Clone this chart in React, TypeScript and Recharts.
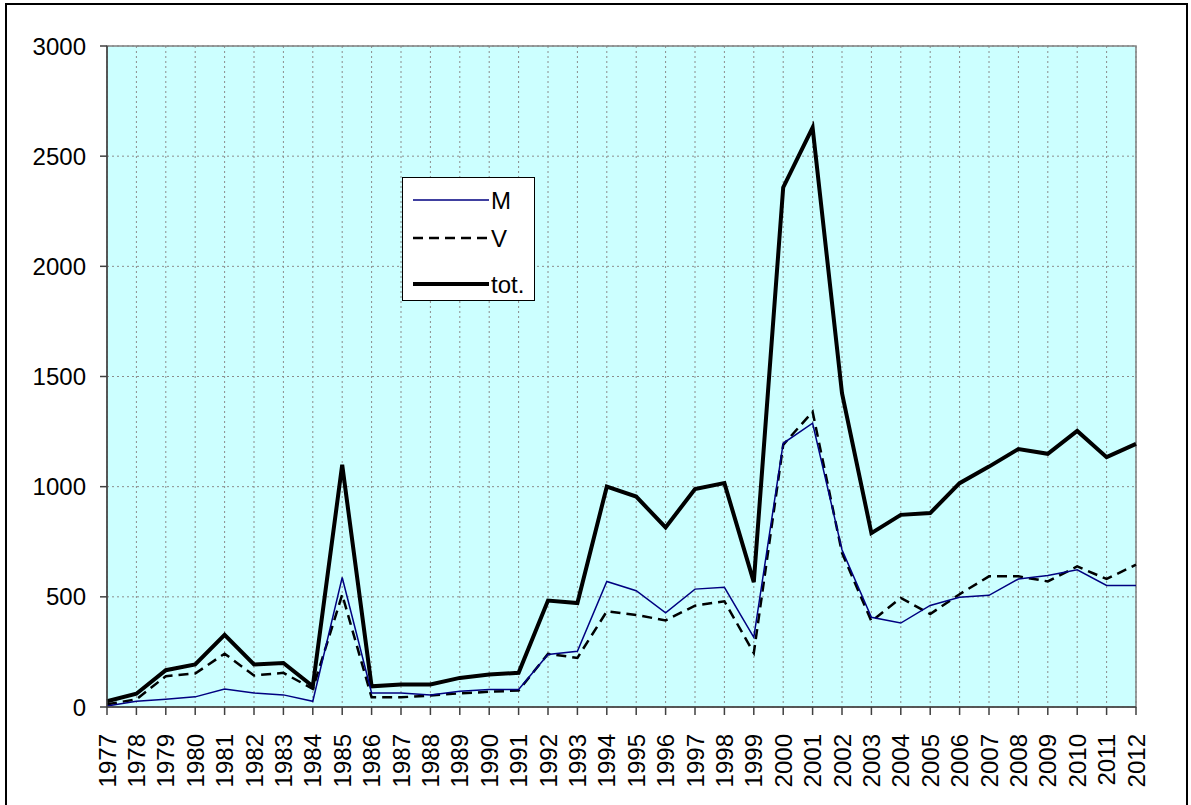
import React from 'react';
import { LineChart, Line, XAxis, YAxis, CartesianGrid, ReferenceArea } from 'recharts';

const years = [
  '1977','1978','1979','1980','1981','1982','1983','1984','1985','1986','1987','1988',
  '1989','1990','1991','1992','1993','1994','1995','1996','1997','1998','1999','2000',
  '2001','2002','2003','2004','2005','2006','2007','2008','2009','2010','2011','2012',
];
const mValues = [
  5, 26, 35, 46, 82, 64, 55, 26, 588, 64, 64, 55,
  72, 79, 79, 238, 253, 570, 528, 427, 535, 543, 316, 1197,
  1288, 714, 407, 381, 461, 498, 507, 581, 597, 623, 552, 552,
];
const vValues = [
  12, 35, 140, 152, 242, 143, 155, 82, 510, 44, 44, 52,
  62, 69, 75, 241, 223, 434, 418, 393, 460, 480, 245, 1190,
  1340, 700, 389, 495, 422, 512, 593, 593, 570, 638, 581, 646,
];
const totValues = [
  26, 60, 167, 193, 328, 193, 200, 94, 1099, 94, 102, 102,
  132, 147, 155, 483, 472, 1000, 955, 815, 989, 1016, 567, 2358,
  2630, 1424, 789, 872, 880, 1016, 1091, 1171, 1149, 1253, 1134, 1194,
];
const yTicks = [0, 500, 1000, 1500, 2000, 2500, 3000];

const data = years.map((y, i) => ({ year: y, M: mValues[i], V: vValues[i], tot: totValues[i] }));

const FONT = '"Liberation Sans", Arial, sans-serif';

const XTick = (props: any) => {
  const { x, y, payload } = props;
  const ty = y + 19;
  return (
    <text
      x={x}
      y={ty}
      transform={`rotate(-90, ${x}, ${ty})`}
      textAnchor="end"
      dominantBaseline="central"
      fontSize={24}
      fontFamily={FONT}
      fill="#000"
    >
      {payload.value}
    </text>
  );
};

const LegendBox = () => {
  const items = [
    { label: 'M', stroke: '#000080', width: 1.5, dash: undefined as string | undefined },
    { label: 'V', stroke: '#000', width: 2.5, dash: '10 6' },
    { label: 'tot.', stroke: '#000', width: 4, dash: undefined },
  ];
  return (
    <div
      style={{
        position: 'absolute',
        left: 402,
        top: 177,
        width: 133,
        height: 124,
        background: '#fff',
        border: '1.5px solid #000',
        boxSizing: 'border-box',
      }}
    >
      <svg width={133} height={124}>
        {items.map((it, i) => {
          const cy = [25, 63, 109][i];
          return (
            <g key={it.label}>
              <line x1={10} x2={86} y1={cy - 3} y2={cy - 3} stroke={it.stroke} strokeWidth={it.width} strokeDasharray={it.dash} />
              <text x={88} y={cy - 3} dominantBaseline="central" fontSize={24} fontFamily={FONT} fill="#000">
                {it.label}
              </text>
            </g>
          );
        })}
      </svg>
    </div>
  );
};

export default function App() {
  return (
    <div style={{ position: 'absolute', left: 0, top: 0, width: 1191, height: 805, background: '#fff', overflow: 'hidden' }}>
      <div
        style={{
          position: 'absolute',
          left: 5,
          top: 3,
          width: 1183,
          height: 820,
          border: '2px solid #000',
          boxSizing: 'border-box',
        }}
      />
      <LineChart
        width={1191}
        height={805}
        data={data}
        margin={{ top: 46, right: 55, left: 0, bottom: 0 }}
        style={{ position: 'absolute', left: 0, top: 0 }}
      >
        <CartesianGrid stroke="#8c8c8c" strokeDasharray="2 3" fill="#CCFFFF" fillOpacity={1} />
        <ReferenceArea y1={0} y2={3000} fill="none" fillOpacity={0} stroke="#808080" strokeWidth={1.5} ifOverflow="visible" />
        <XAxis
          dataKey="year"
          interval={0}
          height={98}
          tickSize={8}
          tickMargin={0}
          tick={<XTick />}
          axisLine={{ stroke: '#404040', strokeWidth: 1.5 }}
          tickLine={{ stroke: '#404040', strokeWidth: 1.5 }}
        />
        <YAxis
          domain={[0, 3000]}
          ticks={yTicks}
          width={107}
          tickSize={7}
          tickMargin={14}
          interval={0}
          tick={{ fontSize: 24, fontFamily: FONT, fill: '#000' }}
          axisLine={{ stroke: '#404040', strokeWidth: 1.5 }}
          tickLine={{ stroke: '#404040', strokeWidth: 1.5 }}
        />
        <Line type="linear" dataKey="tot" stroke="#000" strokeWidth={4} dot={false} isAnimationActive={false} />
        <Line type="linear" dataKey="V" stroke="#000" strokeWidth={2.5} strokeDasharray="10 6" dot={false} isAnimationActive={false} />
        <Line type="linear" dataKey="M" stroke="#000080" strokeWidth={1.5} dot={false} isAnimationActive={false} />
      </LineChart>
      <LegendBox />
    </div>
  );
}
